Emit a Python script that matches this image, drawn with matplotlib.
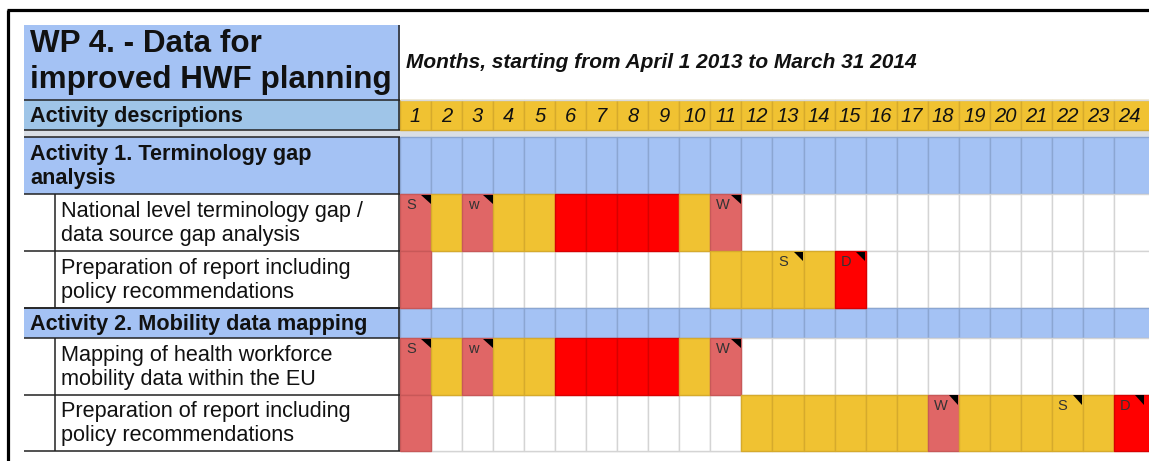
#!/usr/bin/env python3
"""Spreadsheet-style Gantt chart for WP 4 (Data for improved HWF planning)."""

from __future__ import annotations

import matplotlib

matplotlib.use("Agg")
import matplotlib.pyplot as plt
from matplotlib.patches import Polygon, Rectangle

TITLE = "WP 4. - Data for\nimproved HWF planning"
MONTHS_TITLE = "Months, starting from April 1 2013 to March 31 2014"
HEADER_LABEL = "Activity descriptions"
MONTHS = [str(m) for m in range(1, 25)]

GROUPS = ["Activity 1. Terminology gap\nanalysis", "Activity 2. Mobility data mapping"]
TASKS = [
    "National level terminology gap /\ndata source gap analysis",
    "Preparation of report including\npolicy recommendations",
    "Mapping of health workforce\nmobility data within the EU",
    "Preparation of report including\npolicy recommendations",
]
TASK_GROUP = [0, 0, 1, 1]
# P = start/milestone (salmon), Y = ongoing, R = intensive, . = idle
TASK_CELLS = [
    "PYPYYRRRRYP.............",
    "P.........YYYYR.........",
    "PYPYYRRRRYP.............",
    "P..........YYYYYYPYYYYYR",
]
TASK_MARKS = [
    {1: "S", 3: "w", 11: "W"},
    {13: "S", 15: "D"},
    {1: "S", 3: "w", 11: "W"},
    {18: "W", 22: "S", 24: "D"},
]

FILL = {"P": "#e06666", "Y": "#f0c232", "R": "#ff0000", ".": "#ffffff"}
EDGE = {"P": "#c85858", "Y": "#d6aa2c", "R": "#d80000", ".": "#d4d4d4"}
BLUE = "#a4c2f4"
BLUE_EDGE = "#8ba6d2"
SKY = "#9fc5e8"
INK = "#111111"

W, H = 1149, 461
LEFT, SPLIT, INDENT = 24, 400, 55
CW = 31.04


def main() -> None:
    plt.rcParams["font.family"] = ["Liberation Sans", "DejaVu Sans"]
    fig = plt.figure(figsize=(W / 100, H / 100), dpi=100)
    ax = fig.add_axes([0, 0, 1, 1])
    ax.set_xlim(0, W)
    ax.set_ylim(H, 0)
    ax.axis("off")

    def rect(x, y, w, h, fc, ec="none", lw=0.0, z=1):
        ax.add_patch(Rectangle((x, y), w, h, facecolor=fc, edgecolor=ec, linewidth=lw, zorder=z))

    def hline(y, x0, x1, color="#222222", lw=1.1, z=5):
        ax.plot([x0, x1], [y, y], color=color, lw=lw, zorder=z, solid_capstyle="butt")

    def vline(x, y0, y1, color="#222222", lw=1.1, z=5):
        ax.plot([x, x], [y0, y1], color=color, lw=lw, zorder=z, solid_capstyle="butt")

    n = len(MONTHS)

    def col_w(i):
        # the screenshot cuts the last month column at the right edge
        return CW + 12 if i == n - 1 else CW

    # title block
    rect(LEFT, 25, SPLIT - LEFT, 75, BLUE)
    ax.text(LEFT + 6, 62, TITLE, fontsize=22.6, fontweight="bold", color=INK,
            va="center", ha="left", linespacing=1.24)
    ax.text(SPLIT + 6, 62, MONTHS_TITLE, fontsize=15.0, fontweight="bold",
            fontstyle="italic", color=INK, va="center", ha="left")
    hline(100, LEFT, SPLIT)
    hline(100, SPLIT, W, color="#d9d9d9", lw=1.0)

    # month header row
    rect(LEFT, 100, SPLIT - LEFT, 30, SKY)
    ax.text(LEFT + 6, 116, HEADER_LABEL, fontsize=15.6, fontweight="bold", color=INK,
            va="center", ha="left")
    for i, m in enumerate(MONTHS):
        x = SPLIT + i * CW
        rect(x, 100, col_w(i), 30, FILL["Y"], EDGE["Y"], 1.0, z=2)
        ax.text(x + CW / 2, 116, m, fontsize=14.5, fontstyle="italic", color=INK,
                ha="center", va="center", zorder=3)
    hline(130, LEFT, SPLIT)
    vline(SPLIT - 1, 25, 130)

    # gap row
    rect(LEFT, 130, W - LEFT, 7, "#d9dee5", z=1)

    # layout of body rows
    rows = []
    y = 137
    prev_group = None
    for t, g in enumerate(TASK_GROUP):
        if g != prev_group:
            h = 57 if "\n" in GROUPS[g] else 30
            rows.append(("group", g, y, h))
            y += h
            prev_group = g
        h = 57 if t < 2 else 56.5
        rows.append(("task", t, y, h))
        y += h

    for kind, idx, y0, h in rows:
        if kind == "group":
            rect(LEFT, y0, W - LEFT, h, BLUE, z=1)
            for i in range(n):
                rect(SPLIT + i * CW, y0, col_w(i), h, BLUE, BLUE_EDGE, 1.0, z=2)
            ax.text(LEFT + 6, y0 + h / 2 + 1, GROUPS[idx], fontsize=15.6, fontweight="bold",
                    color=INK, va="center", ha="left", linespacing=1.15, zorder=6)
            hline(y0, LEFT, SPLIT)
            hline(y0 + h, LEFT, SPLIT)
            vline(SPLIT - 1, y0, y0 + h)
        else:
            rect(LEFT, y0, SPLIT - LEFT, h, "#ffffff", z=1)
            ax.text(INDENT + 6, y0 + h / 2 + 1, TASKS[idx], fontsize=15.6, color=INK,
                    va="center", ha="left", linespacing=1.18, zorder=6)
            hline(y0 + h, LEFT, SPLIT)
            vline(INDENT, y0, y0 + h)
            vline(SPLIT - 1, y0, y0 + h)
            cells = TASK_CELLS[idx]
            # idle cells first, coloured cells above them
            for pass_idle in (True, False):
                for i, c in enumerate(cells):
                    if (c == ".") != pass_idle:
                        continue
                    x = SPLIT + i * CW
                    rect(x, y0, col_w(i), h, FILL[c], EDGE[c], 1.0, z=2 if pass_idle else 3)
            for month, mark in TASK_MARKS[idx].items():
                x = SPLIT + (month - 1) * CW
                ax.text(x + 6, y0 + 4, mark, fontsize=10.5, color="#333333",
                        ha="left", va="top", zorder=4)
                ax.add_patch(Polygon([(x + CW - 10, y0 + 0.5), (x + CW - 0.5, y0 + 0.5),
                                      (x + CW - 0.5, y0 + 10)], closed=True,
                                     facecolor="#000000", edgecolor="none", zorder=4))

    last_bottom = rows[-1][2] + rows[-1][3]
    hline(last_bottom, SPLIT, W, color="#d4d4d4", lw=1.0, z=1)

    # outer frame
    ax.plot([7.5, 7.5], [10, H], color="#000000", lw=2.3, solid_capstyle="butt", zorder=8)
    ax.plot([6.5, W], [10.5, 10.5], color="#000000", lw=2.3, solid_capstyle="butt", zorder=8)

    fig.savefig("out.png", dpi=100)


if __name__ == "__main__":
    main()
